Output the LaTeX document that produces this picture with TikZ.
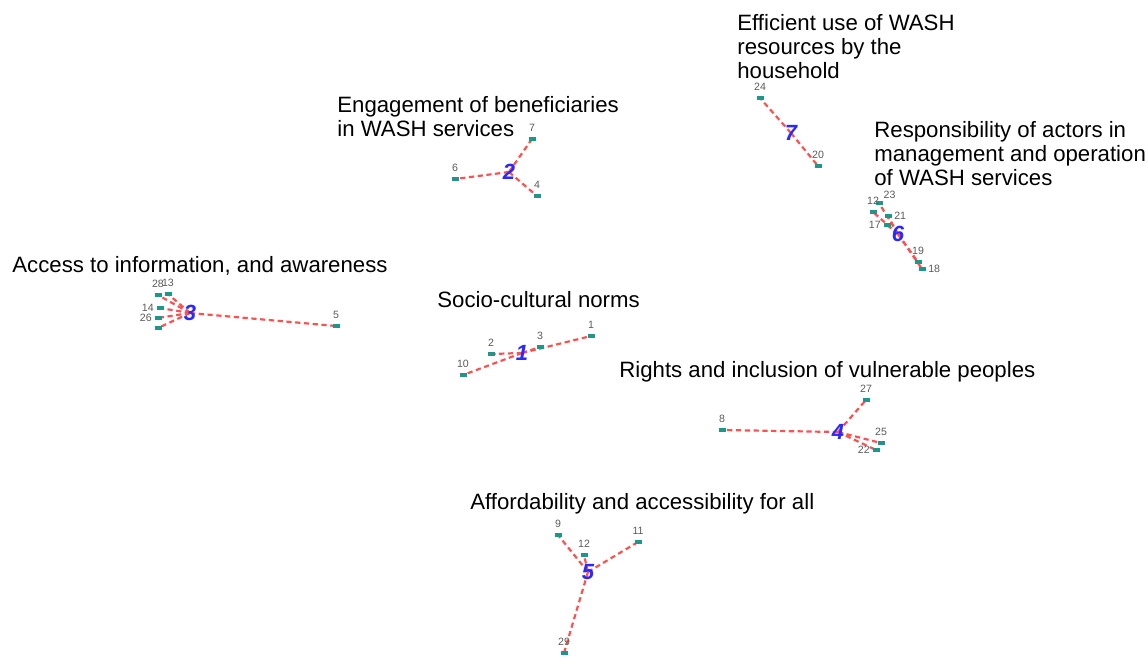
\documentclass[tikz,border=0pt]{standalone}
\usepackage{fontspec}
\setmainfont{Liberation Sans}
\usetikzlibrary{backgrounds}

\definecolor{markteal}{RGB}{32,150,138}
\definecolor{linkred}{RGB}{255,80,80}
\definecolor{hubblue}{RGB}{40,40,255}
\definecolor{numgray}{RGB}{90,90,90}

\begin{document}
\begin{tikzpicture}[x=0.5pt, y=-0.5pt, label distance=2.3pt,
	item/.style={rectangle, fill=markteal, minimum width=3.5pt, minimum height=2.4pt, inner sep=0pt},
	itemnum/.style={font=\fontsize{5.3}{5.3}\selectfont, text=numgray, inner sep=0pt},
	hub/.style={font=\fontsize{11}{11}\selectfont\itshape\bfseries, text=hubblue, inner sep=0pt},
	link/.style={draw=linkred, line width=1.1pt, dash pattern=on 2.6pt off 1.8pt},
	title/.style={font=\fontsize{11.1}{12}\selectfont, align=left, anchor=north west, inner sep=0pt}]
		\useasboundingbox (0,0) rectangle (1148,658);

		% cluster titles
		\node[title] (TitleHousehold) at (737,14) {Efficient use of WASH\\resources by the\\household};
		\node[title] (TitleBeneficiaries) at (337,96) {Engagement of beneficiaries\\in WASH services};
		\node[title] (TitleActors) at (874,121) {Responsibility of actors in\\management and operation\\of WASH services};
		\node[title] (TitleAwareness) at (12,256) {Access to information, and awareness};
		\node[title] (TitleNorms) at (437,291) {Socio-cultural norms};
		\node[title] (TitleRights) at (619,361) {Rights and inclusion of vulnerable peoples};
		\node[title] (TitleAffordability) at (470,493) {Affordability and accessibility for all};

		% cluster 7
		\node[item, label={[itemnum]above:24}] (Item24) at (760,98) {};
		\node[item, label={[itemnum]above:20}] (Item20) at (818,166) {};
		\node[hub] (Hub7) at (791,133) {7};

		% cluster 2
		\node[item, label={[itemnum]above:7}] (Item7) at (532,139) {};
		\node[item, label={[itemnum]above:6}] (Item6) at (455,179) {};
		\node[item, label={[itemnum]above:4}] (Item4) at (537,196) {};
		\node[hub] (Hub2) at (509,172) {2};

		% cluster 6
		\node[item, label={[itemnum, label distance=1pt]above right:23}] (Item23) at (879,203) {};
		\node[item, label={[itemnum]above:12}] (Item12b) at (873,212) {};
		\node[item, label={[itemnum, label distance=1pt]right:21}] (Item21) at (888,216) {};
		\node[item, label={[itemnum, label distance=1pt]left:17}] (Item17) at (887,225) {};
		\node[item, label={[itemnum]above:19}] (Item19) at (918,262) {};
		\node[item, label={[itemnum, label distance=1pt]right:18}] (Item18) at (922,269) {};
		\node[hub] (Hub6) at (898,234) {6};

		% cluster 3
		\node[item, label={[itemnum]above:28}] (Item28) at (158,295) {};
		\node[item, label={[itemnum]above:13}] (Item13) at (168,294) {};
		\node[item, label={[itemnum, label distance=1pt]left:14}] (Item14) at (160,308) {};
		\node[item, label={[itemnum, label distance=1pt]left:26}] (Item26) at (158,318) {};
		\node[item] (Item15) at (158,328) {};
		\node[item, label={[itemnum]above:5}] (Item5) at (336,326) {};
		\node[hub] (Hub3) at (190,313) {3};

		% cluster 1
		\node[item, label={[itemnum]above:1}] (Item1) at (591,336) {};
		\node[item, label={[itemnum]above:3}] (Item3) at (540,347) {};
		\node[item, label={[itemnum]above:2}] (Item2) at (491,354) {};
		\node[item, label={[itemnum]above:10}] (Item10) at (463,375) {};
		\node[hub] (Hub1) at (522,353) {1};

		% cluster 4
		\node[item, label={[itemnum]above:27}] (Item27) at (866,400) {};
		\node[item, label={[itemnum]above:8}] (Item8) at (722,430) {};
		\node[item, label={[itemnum]above:25}] (Item25) at (881,443) {};
		\node[item, label={[itemnum, label distance=1pt]left:22}] (Item22) at (876,450) {};
		\node[hub] (Hub4) at (838,432) {4};

		% cluster 5
		\node[item, label={[itemnum]above:9}] (Item9) at (558,535) {};
		\node[item, label={[itemnum]above:12}] (Item12) at (584,555) {};
		\node[item, label={[itemnum]above:11}] (Item11) at (638,542) {};
		\node[item, label={[itemnum]above:29}] (Item29) at (564,653) {};
		\node[hub] (Hub5) at (588,572) {5};

		\begin{scope}[on background layer]
			\foreach \hub/\item in {Hub7/Item24, Hub7/Item20,
				Hub2/Item7, Hub2/Item6, Hub2/Item4,
				Hub6/Item23, Hub6/Item12b, Hub6/Item21, Hub6/Item17, Hub6/Item19, Hub6/Item18,
				Hub3/Item28, Hub3/Item13, Hub3/Item14, Hub3/Item26, Hub3/Item15, Hub3/Item5,
				Hub1/Item1, Hub1/Item3, Hub1/Item2, Hub1/Item10,
				Hub4/Item27, Hub4/Item8, Hub4/Item25, Hub4/Item22,
				Hub5/Item9, Hub5/Item12, Hub5/Item11, Hub5/Item29}
				\draw[link] (\hub.center) -- (\item.center);
		\end{scope}
	\end{tikzpicture}
\end{document}
